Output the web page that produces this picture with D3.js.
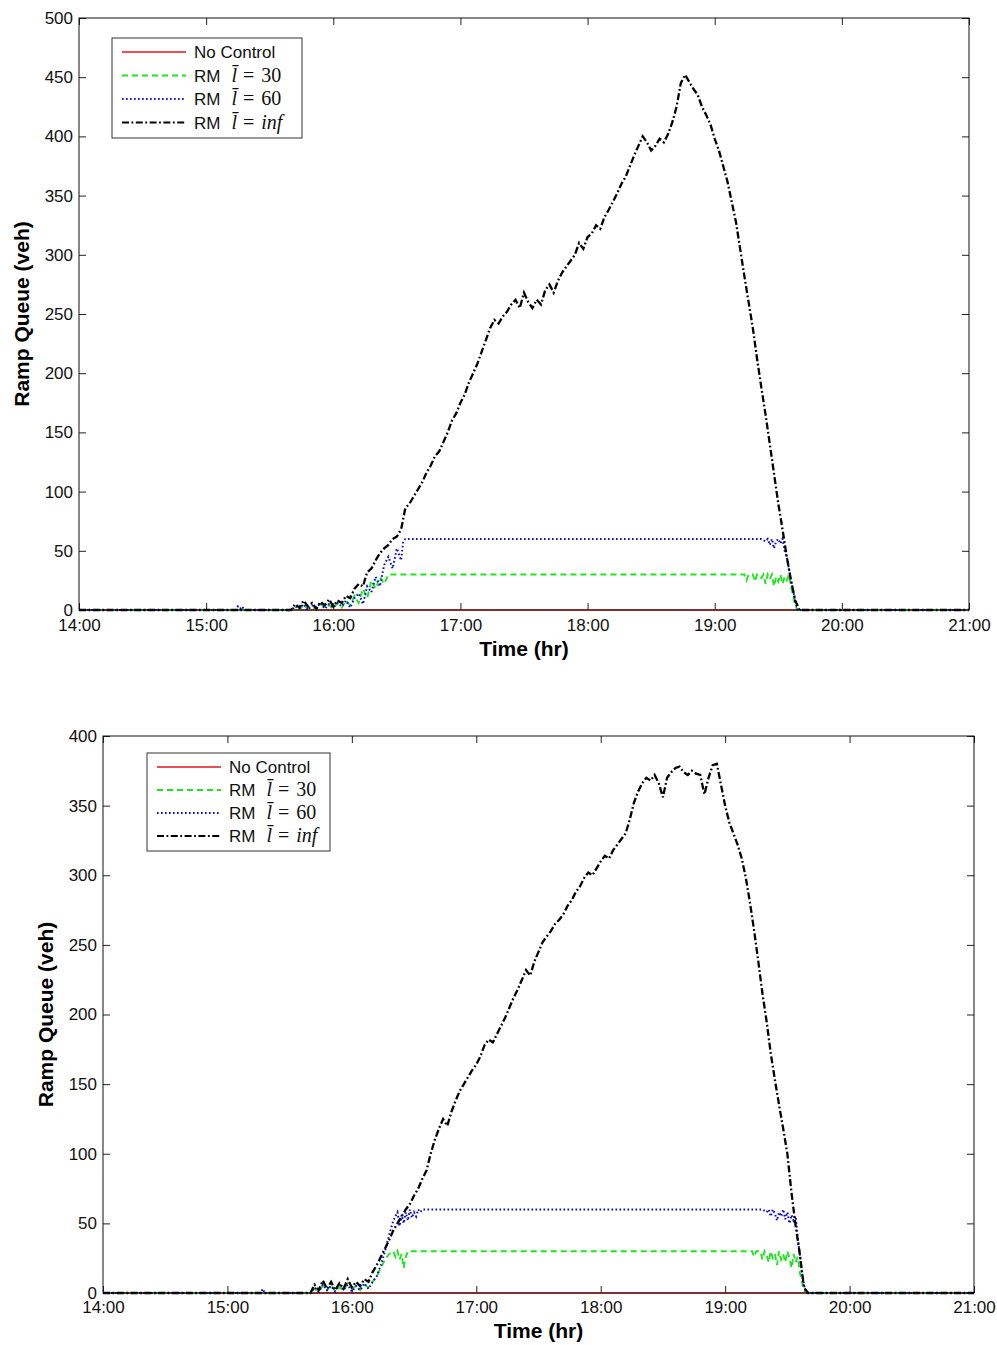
<!DOCTYPE html>
<html>
<head>
<meta charset="utf-8">
<script src="https://cdn.jsdelivr.net/npm/d3@7"></script>
<style>
  body { margin: 0; background: #fff; }
  text { font-family: "Liberation Sans", Arial, sans-serif; }
</style>
</head>
<body>
<svg id="chart" width="997" height="1345"></svg>
<script>
// minutes after 14:00 on the x axis, vehicles on the y axis
let timeTicks = [0, 60, 120, 180, 240, 300, 360, 420];
let timeLabels = ["14:00", "15:00", "16:00", "17:00", "18:00", "19:00", "20:00", "21:00"];
let legendNames = ["No Control", "30", "60", "inf"];

// black (no queue limit) sampled every 2 min, first value at minute 100 (15:40)
let blackStart = 100, blackStep = 2;
let blackTop = [
  0, 5, 2, 8, 3, 6, 1, 7, 4, 9,
  3, 8, 6, 12, 10, 18, 22, 20, 32, 35,
  42, 48, 52, 55, 60, 62, 68, 86, 90, 96,
  102, 108, 116, 122, 130, 134, 142, 150, 160, 166,
  175, 182, 192, 200, 208, 218, 228, 238, 245, 242,
  248, 252, 258, 262, 255, 268, 260, 255, 262, 258,
  270, 275, 268, 278, 285, 290, 295, 300, 310, 305,
  315, 318, 325, 322, 332, 338, 345, 352, 360, 366,
  375, 384, 392, 400, 395, 388, 392, 398, 395, 402,
  412, 425, 445, 452, 446, 440, 435, 425, 418, 410,
  398, 388, 375, 362, 345, 328, 305, 282, 260, 238,
  212, 188, 165, 140, 115, 90, 68, 45, 25, 8,
  0
];
let blackBottom = [
  0, 6, 2, 9, 3, 8, 2, 7, 3, 10,
  4, 8, 5, 10, 8, 15, 20, 26, 32, 38,
  45, 50, 55, 60, 64, 70, 75, 82, 88, 100,
  110, 118, 125, 120, 130, 138, 145, 150, 155, 160,
  164, 170, 178, 182, 180, 186, 192, 198, 205, 212,
  218, 225, 232, 228, 238, 245, 252, 256, 260, 265,
  268, 272, 278, 282, 288, 292, 298, 302, 300, 305,
  310, 314, 312, 318, 322, 326, 330, 340, 352, 360,
  366, 370, 368, 372, 366, 356, 370, 374, 377, 378,
  374, 372, 375, 373, 372, 358, 370, 379, 380, 365,
  350, 338, 330, 322, 312, 298, 280, 260, 238, 215,
  195, 172, 153, 135, 118, 100, 72, 48, 28, 4,
  0
];

// [minute, veh] for the limited ramp-metering runs
let blueTop = [[0,0],[74,0],[75,3],[76,1],[77,3],[78,0],[100,0],[102,3],[104,1],[106,5],[108,0],[110,4],
  [112,2],[114,6],[116,1],[118,5],[120,2],[122,6],[124,3],[126,8],[128,2],[130,10],[132,14],[134,5],
  [136,20],[138,15],[140,28],[142,20],[144,38],[146,45],[148,35],[150,52],[152,42],[153,58],[154,60],
  [322,60],[324,58],[325,60],[326,55],[327,60],[328,52],[329,58],[330,60],[331,56],[332,60],[333,50],
  [334,45],[336,25],[338,8],[339,0],[420,0]];
let greenTop = [[0,0],[100,0],[102,2],[104,0],[106,4],[108,1],[110,3],[112,0],[114,5],[116,2],[118,4],
  [120,1],[122,6],[124,2],[126,8],[128,4],[130,12],[132,6],[134,18],[136,10],[138,25],[140,18],[142,28],
  [144,22],[146,30],[314,30],[315,25],[316,30],[318,30],[319,24],[320,30],[322,27],[323,30],[324,22],
  [325,30],[326,26],[327,30],[328,20],[329,28],[330,24],[331,30],[332,22],[333,28],[334,25],[335,30],
  [336,20],[337,12],[338,4],[339,0],[420,0]];
let blueBottom = [[0,0],[76,0],[77,3],[78,0],[100,0],[102,4],[104,1],[106,6],[108,2],[110,5],[112,1],
  [114,7],[116,2],[118,6],[120,1],[122,5],[124,2],[126,7],[128,3],[130,8],[132,12],[134,20],[136,30],
  [138,42],[140,52],[142,58],[143,48],[144,56],[145,50],[146,58],[147,52],[148,60],[149,54],[150,58],
  [151,55],[152,60],[153,58],[154,60],[318,60],[320,58],[321,60],[322,55],[323,60],[324,57],[325,52],
  [326,58],[327,55],[328,60],[329,53],[330,58],[331,50],[332,56],[333,52],[334,55],[335,40],[336,28],
  [337,15],[338,6],[339,0],[420,0]];
let greenBottom = [[0,0],[100,0],[102,3],[104,1],[106,5],[108,2],[110,6],[112,1],[114,4],[116,2],[118,7],
  [120,3],[122,5],[124,2],[126,6],[128,4],[130,8],[132,12],[134,18],[136,24],[138,28],[140,30],[141,26],
  [142,30],[143,24],[144,28],[145,18],[146,26],[147,30],[313,30],[314,26],[315,30],[317,30],[318,24],
  [319,30],[320,27],[321,22],[322,30],[323,25],[324,28],[325,20],[326,30],[327,24],[328,28],[329,22],
  [330,30],[331,25],[332,18],[333,28],[334,22],[335,26],[336,15],[337,8],[338,2],[339,0],[420,0]];
let redLine = [[0,0],[420,0]];

let styles = [
  { color: "#e3141c", dash: null, width: 1.6 },
  { color: "#1ee61e", dash: "6,4", width: 1.9 },
  { color: "#0a0ad2", dash: "1.6,2.4", width: 2 },
  { color: "#000", dash: "7,2.5,1.8,2.5", width: 2.3 }
];

function blackPairs(vals) {
  let pts = vals.map((v, i) => [blackStart + i * blackStep, v]);
  return [[0, 0]].concat(pts, [[420, 0]]);
}

let panels = [
  { left: 79, right: 969, top: 18, bottom: 610, yMax: 500, yLab: 29, xLab: 656, padX: 9,
    legend: { x: 112, y: 38, w: 190, h: 100 },
    series: [redLine, greenTop, blueTop, blackPairs(blackTop)] },
  { left: 103, right: 974, top: 736, bottom: 1293, yMax: 400, yLab: 53, xLab: 1338, padX: 8,
    legend: { x: 147, y: 753, w: 183, h: 98 },
    series: [redLine, greenBottom, blueBottom, blackPairs(blackBottom)] }
];

let svg = d3.select("#chart");
let serif = '"Liberation Serif", "Times New Roman", serif';

panels.forEach(p => {
  let x = d3.scaleLinear().domain([0, 420]).range([p.left, p.right]);
  let y = d3.scaleLinear().domain([0, p.yMax]).range([p.bottom, p.top]);
  let yTicks = d3.range(0, p.yMax + 1, 50);
  let g = svg.append("g");

  let fmt = m => timeLabels[timeTicks.indexOf(m)];

  g.append("g").attr("transform", `translate(0,${p.bottom})`)
    .call(d3.axisBottom(x).tickValues(timeTicks).tickFormat(fmt).tickSizeInner(-7).tickSizeOuter(0).tickPadding(p.padX));
  g.append("g").attr("transform", `translate(0,${p.top})`)
    .call(d3.axisTop(x).tickValues(timeTicks).tickFormat("").tickSizeInner(-7).tickSizeOuter(0));
  g.append("g").attr("transform", `translate(${p.left},0)`)
    .call(d3.axisLeft(y).tickValues(yTicks).tickSizeInner(-7).tickSizeOuter(0).tickPadding(6));
  g.append("g").attr("transform", `translate(${p.right},0)`)
    .call(d3.axisRight(y).tickValues(yTicks).tickFormat("").tickSizeInner(-7).tickSizeOuter(0));
  g.selectAll(".domain").remove();
  g.selectAll(".tick line").attr("stroke", "#222");
  g.selectAll(".tick text").attr("font-size", 17).attr("fill", "#111")
    .style("font-family", '"Liberation Sans", Arial, sans-serif');

  let line = d3.line().x(d => x(d[0])).y(d => y(d[1]));
  p.series.forEach((s, i) => {
    g.append("path").datum(s).attr("d", line).attr("fill", "none")
      .attr("stroke", styles[i].color).attr("stroke-width", styles[i].width)
      .attr("stroke-dasharray", styles[i].dash);
  });

  g.append("rect").attr("x", p.left).attr("y", p.top)
    .attr("width", p.right - p.left).attr("height", p.bottom - p.top)
    .attr("fill", "none").attr("stroke", "#111").attr("stroke-width", 1);

  g.append("text").attr("x", (p.left + p.right) / 2).attr("y", p.xLab)
    .attr("text-anchor", "middle").attr("font-size", 21).attr("font-weight", "bold")
    .text("Time (hr)");
  g.append("text").attr("transform", `translate(${p.yLab},${(p.top + p.bottom) / 2}) rotate(-90)`)
    .attr("text-anchor", "middle").attr("font-size", 21).attr("font-weight", "bold")
    .text("Ramp Queue (veh)");

  // legend
  let L = p.legend;
  let lg = g.append("g").attr("transform", `translate(${L.x},${L.y})`);
  lg.append("rect").attr("width", L.w).attr("height", L.h)
    .attr("fill", "#fff").attr("stroke", "#333").attr("stroke-width", 1);
  let rowH = (L.h - 6) / 4;
  legendNames.forEach((name, i) => {
    let cy = 14 + i * rowH;
    lg.append("line").attr("x1", 10).attr("x2", 74).attr("y1", cy).attr("y2", cy)
      .attr("stroke", styles[i].color).attr("stroke-width", Math.min(styles[i].width, 1.9))
      .attr("stroke-dasharray", styles[i].dash);
    let t = lg.append("text").attr("x", 82).attr("y", cy + 6).attr("font-size", 17).attr("fill", "#111");
    if (i === 0) {
      t.text(name);
    } else {
      t.append("tspan").text("RM");
      t.append("tspan").attr("dx", 11).style("font-family", serif)
        .attr("font-style", "italic").attr("font-size", 20).text("l\u0304");
      t.append("tspan").attr("dx", 6).style("font-family", serif)
        .attr("font-size", 20).text("=");
      t.append("tspan").attr("dx", 7).style("font-family", serif)
        .attr("font-style", name === "inf" ? "italic" : "normal").attr("font-size", 20).text(name);
    }
  });
});
</script>
</body>
</html>
